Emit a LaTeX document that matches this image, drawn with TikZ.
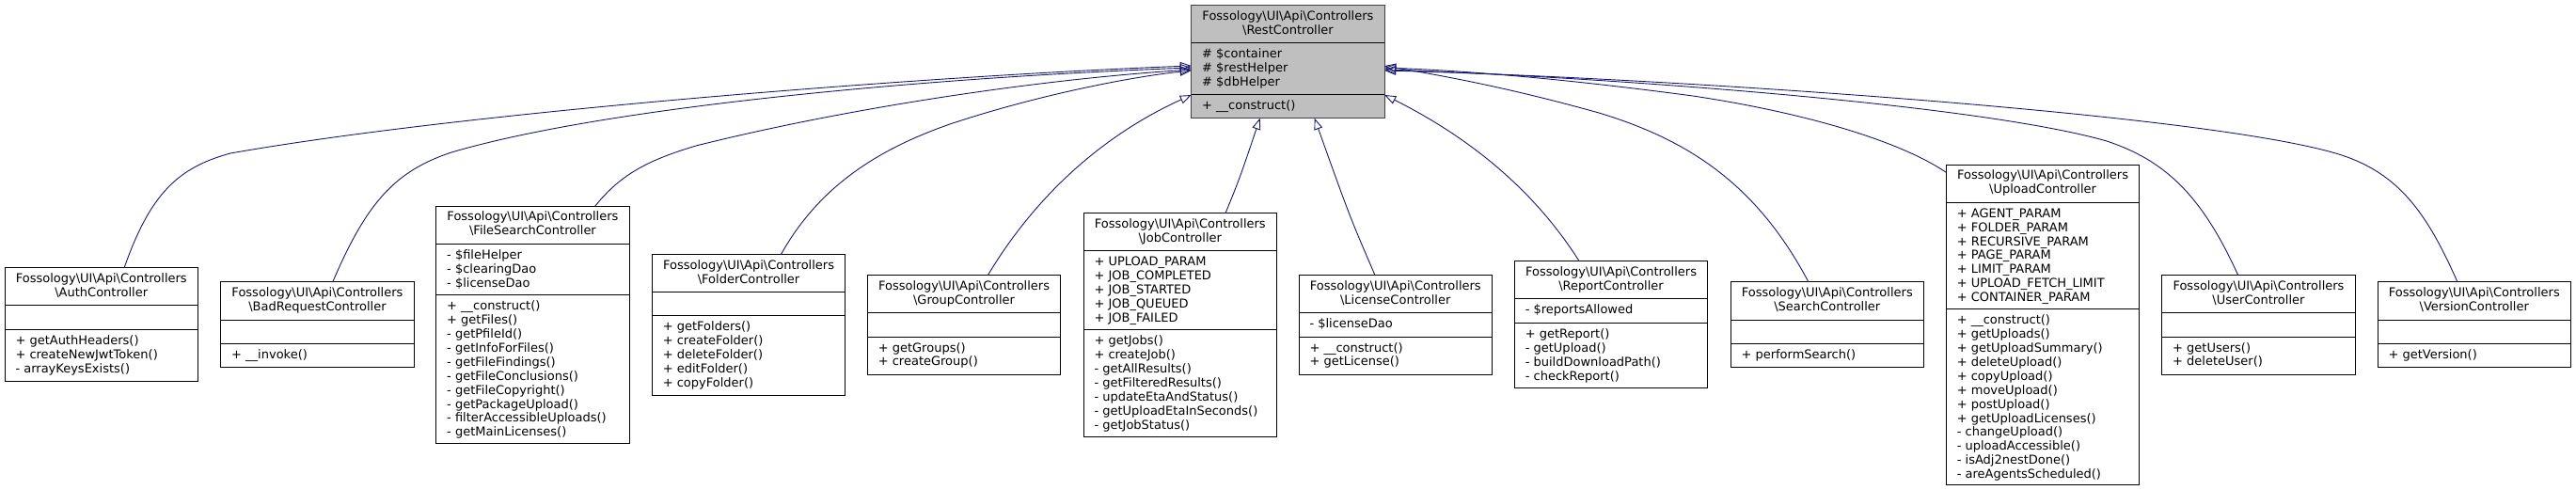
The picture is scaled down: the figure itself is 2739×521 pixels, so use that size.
\documentclass[tikz,border=0pt]{standalone}
\usepackage{fontspec}
\setmainfont{DejaVu Sans}
\usetikzlibrary{calc,arrows.meta}
\definecolor{edgeblue}{HTML}{191970}
\definecolor{restgray}{HTML}{BFBFBF}
\definecolor{restborder}{HTML}{404040}
\newcommand\bsl{\textbackslash}
\tikzset{
  clsbox/.style={draw=black, fill=white, line width=1pt, rectangle, inner sep=0pt, outer sep=0pt, minimum width=205.5pt},
  sepline/.style={draw=black, line width=1pt},
  txt/.style={inner sep=0pt, outer sep=0pt, font=\fontsize{13}{15}\selectfont},
  inh/.style={draw=edgeblue, line width=0.9pt, -{Triangle[open, length=12pt, width=9pt]}}
}
% #1 name, #2 left, #3 top, #4 title h, #5 attr h, #6 method h, #7 class name, #8 attributes, #9 methods
\newcommand\umlcls[9]{%
  \node[clsbox, minimum height={(#4+#5+#6)*1pt}, anchor=north west] (#1) at (#2,#3) {};
  \draw[sepline] ($(#1.north west)+(0,#4)$) -- ($(#1.north east)+(0,#4)$);
  \draw[sepline] ($(#1.north west)+(0,{#4+#5})$) -- ($(#1.north east)+(0,{#4+#5})$);
  \node[txt, anchor=base] (#1-t1) at ($(#1.north)+(0,15.7)$) {Fossology\bsl UI\bsl Api\bsl Controllers};
  \node[txt, anchor=base] (#1-t2) at ($(#1.north)+(0,30.7)$) {\bsl #7};
  \foreach \lineText [count=\idx] in {#8} {\node[txt, anchor=base west] at ($(#1.north west)+(11.5,{#4+16+(\idx-1)*14.9})$) {\lineText};}
  \foreach \lineText [count=\idx] in {#9} {\node[txt, anchor=base west] at ($(#1.north west)+(11.5,{#4+#5+16+(\idx-1)*14.9})$) {\lineText};}
}
\begin{document}
\begin{tikzpicture}[x=1pt,y=-1pt]
\useasboundingbox (0,0) rectangle (2739,521);

\begin{scope}[clsbox/.append style={fill=restgray, draw=restborder}, sepline/.append style={draw=black}]
\umlcls{rest}{1266.7}{6}{39.7}{54.6}{25.4}{RestController}{\# \$container,\# \$restHelper,\# \$dbHelper}{+ \_\_construct()}
\end{scope}

\umlcls{auth}{5}{285}{40}{25.3}{54.7}{AuthController}{}{+ getAuthHeaders(),+ createNewJwtToken(),- arrayKeysExists()}
\umlcls{badreq}{234.7}{300}{40}{25.3}{25}{BadRequestController}{}{+ \_\_invoke()}
\umlcls{filesearch}{463.7}{219.3}{40}{54.4}{157.3}{FileSearchController}{- \$fileHelper,- \$clearingDao,- \$licenseDao}{+ \_\_construct(),+ getFiles(),- getPfileId(),- getInfoForFiles(),- getFileFindings(),- getFileConclusions(),- getFileCopyright(),- getPackageUpload(),- filterAccessibleUploads(),- getMainLicenses()}
\umlcls{folder}{693.3}{270.7}{39.6}{25.7}{84}{FolderController}{}{+ getFolders(),+ createFolder(),+ deleteFolder(),+ editFolder(),+ copyFolder()}
\umlcls{group}{922.3}{292.7}{40}{25.3}{40}{GroupController}{}{+ getGroups(),+ createGroup()}
\umlcls{job}{1152}{226.7}{40}{84}{113.3}{JobController}{+ UPLOAD\_PARAM,+ JOB\_COMPLETED,+ JOB\_STARTED,+ JOB\_QUEUED,+ JOB\_FAILED}{+ getJobs(),+ createJob(),- getAllResults(),- getFilteredResults(),- updateEtaAndStatus(),- getUploadEtaInSeconds(),- getJobStatus()}
\umlcls{license}{1381}{292.7}{40}{25.3}{40}{LicenseController}{- \$licenseDao}{+ \_\_construct(),+ getLicense()}
\umlcls{report}{1610.3}{278}{39.7}{25.6}{69}{ReportController}{- \$reportsAllowed}{+ getReport(),- getUpload(),- buildDownloadPath(),- checkReport()}
\umlcls{search}{1840}{300}{40}{25.3}{25.4}{SearchController}{}{+ performSearch()}
\umlcls{upload}{2069.3}{175.3}{40}{113.4}{186.3}{UploadController}{+ AGENT\_PARAM,+ FOLDER\_PARAM,+ RECURSIVE\_PARAM,+ PAGE\_PARAM,+ LIMIT\_PARAM,+ UPLOAD\_FETCH\_LIMIT,+ CONTAINER\_PARAM}{+ \_\_construct(),+ getUploads(),+ getUploadSummary(),+ deleteUpload(),+ copyUpload(),+ moveUpload(),+ postUpload(),+ getUploadLicenses(),- changeUpload(),- uploadAccessible(),- isAdj2nestDone(),- areAgentsScheduled()}
\umlcls{user}{2298.7}{292.7}{40}{25.3}{40}{UserController}{}{+ getUsers(),+ deleteUser()}
\umlcls{version}{2528}{300}{40}{25.3}{25.4}{VersionController}{}{+ getVersion()}

% target points on the parent
\coordinate (rLa) at ($(rest.north west)+(0,64)$);
\coordinate (rLb) at ($(rest.north west)+(0,66)$);
\coordinate (rLc) at ($(rest.north west)+(0,68)$);
\coordinate (rLd) at ($(rest.north west)+(0,69)$);
\coordinate (rL2) at ($(rest.north west)+(0,95)$);
\coordinate (rB1) at ($(rest.south west)+(73,0)$);
\coordinate (rB2) at ($(rest.south west)+(131,0)$);
\coordinate (rR2) at ($(rest.north east)+(0,95)$);
\coordinate (rRa) at ($(rest.north east)+(0,64)$);
\coordinate (rRb) at ($(rest.north east)+(0,66)$);
\coordinate (rRc) at ($(rest.north east)+(0,68)$);
\coordinate (rRd) at ($(rest.north east)+(0,69)$);

% start points on the children
\coordinate (sAuth) at ($(auth.north west)+(127,0)$);
\coordinate (sBad) at ($(badreq.north west)+(119,0)$);
\coordinate (sFile) at ($(filesearch.north west)+(169,0)$);
\coordinate (sFolder) at ($(folder.north west)+(137,0)$);
\coordinate (sGroup) at ($(group.north west)+(128,0)$);
\coordinate (sJob) at ($(job.north west)+(151,0)$);
\coordinate (sLic) at ($(license.north west)+(81,0)$);
\coordinate (sRep) at ($(report.north west)+(69,0)$);
\coordinate (sSearch) at ($(search.north west)+(83,0)$);
\coordinate (sUpload) at ($(upload.north west)+(0,8)$);
\coordinate (sUser) at ($(user.north west)+(81,0)$);
\coordinate (sVer) at ($(version.north west)+(85,0)$);

\draw[inh] (sAuth) .. controls (160,205) and (190,178) .. (245,163) .. controls (500,118) and (1000,80) .. (rLa);
\draw[inh] (sBad) .. controls (390,215) and (420,182) .. (480,162) .. controls (650,112) and (1000,82) .. (rLb);
\draw[inh] (sFile) .. controls (660,185) and (690,170) .. (740,155) .. controls (900,115) and (1100,85) .. (rLc);
\draw[inh] (sFolder) .. controls (870,200) and (930,160) .. (1010,132) .. controls (1100,102) and (1200,82) .. (rLd);
\draw[inh] (sGroup) .. controls (1100,210) and (1170,145) .. (rL2);
\draw[inh] (sJob) .. controls (1318,190) .. (rB1);
\draw[inh] (sLic) .. controls (1435,230) .. (rB2);
\draw[inh] (sRep) .. controls (1630,200) and (1560,145) .. (rR2);
\draw[inh] (sSearch) .. controls (1870,200) and (1800,150) .. (1700,120) .. controls (1600,92) and (1530,80) .. (rRa);
\draw[inh] (sUpload) .. controls (2020,150) and (1920,120) .. (1800,102) .. controls (1650,82) and (1550,75) .. (rRb);
\draw[inh] (sUser) .. controls (2340,205) and (2300,170) .. (2240,150) .. controls (2100,110) and (1700,82) .. (rRc);
\draw[inh] (sVer) .. controls (2580,225) and (2550,185) .. (2490,165) .. controls (2350,120) and (1750,82) .. (rRd);
\end{tikzpicture}
\end{document}
